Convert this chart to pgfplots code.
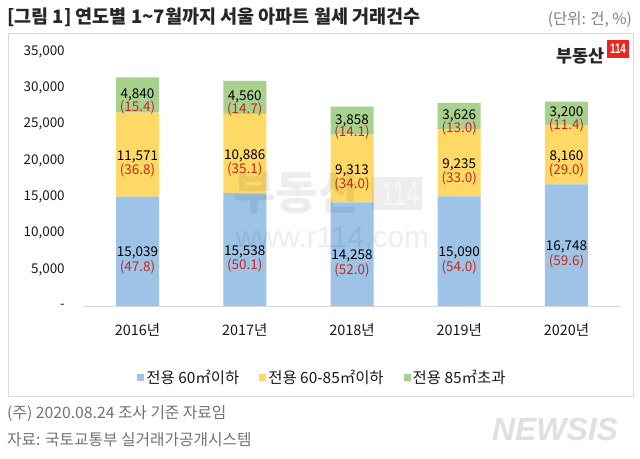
\documentclass[border=0pt]{standalone}
\usepackage{pgfplots}
\pgfplotsset{compat=1.18}
\usepackage{pgfplotstable}
\usepackage{fontspec}
\setmainfont{Noto Sans CJK KR}
\newfontfamily\latinf{Liberation Sans}
\definecolor{c1}{HTML}{9DC3E6}
\definecolor{c2}{HTML}{FFD966}
\definecolor{c3}{HTML}{A9D18E}
\definecolor{pct}{HTML}{C4281C}
\definecolor{framec}{HTML}{D9D9D9}
\definecolor{logored}{HTML}{E8281E}
\pgfplotstableread{
x a b c na nb nc pa pb pc
0 15039 11571 4840 15,039 11,571 4,840 (47.8) (36.8) (15.4)
1 15538 10886 4560 15,538 10,886 4,560 (50.1) (35.1) (14.7)
2 14258 9313 3858 14,258 9,313 3,858 (52.0) (34.0) (14.1)
3 15090 9235 3626 15,090 9,235 3,626 (54.0) (33.0) (13.0)
4 16748 8160 3200 16,748 8,160 3,200 (59.6) (29.0) (11.4)
}\datatable
\newcommand{\fs}[1]{\fontsize{#1}{#1}\selectfont}
\begin{document}
\begin{tikzpicture}
\useasboundingbox (0bp,0bp) rectangle (640bp,459bp);
\fill[white] (0bp,0bp) rectangle (640bp,459bp);
% frame
\draw[framec, line width=0.8bp] (8bp,62.3bp) rectangle (633bp,426bp);
% title
\node[anchor=west, inner sep=0pt, text=black!85] at (7bp,442bp) {\fs{18.6}\bfseries [그림 1] 연도별 1\textasciitilde 7월까지 서울 아파트 월세 거래건수};
\node[anchor=east, inner sep=0pt, text=black!50] at (632bp,439bp) {\fs{15.5}(단위: 건, \%)};
% logo
\node[anchor=east, inner sep=0pt, text=black!85] at (605bp,403bp) {\fs{17.5}\bfseries 부동산};
\fill[logored] (607bp,401bp) rectangle (629bp,419bp);
\node[inner sep=0pt, text=white, xscale=0.7, transform shape] at (618bp,410bp) {\latinf\fs{14}\bfseries 114};
% footer
\node[anchor=west, inner sep=0pt, text=black!55] at (7bp,45bp) {\fs{15.8}(주) 2020.08.24 조사 기준 자료임};
\node[anchor=west, inner sep=0pt, text=black!55] at (7bp,19bp) {\fs{15.8}자료: 국토교통부 실거래가공개시스템};
\node[inner sep=0pt, text=black!12] at (555bp,29bp) {\latinf\fs{32}\bfseries\itshape NEWSIS};
\begin{axis}[
  at={(83.9bp,153bp)}, anchor=south west,
  scale only axis, width=536.2bp, height=254.4bp,
  ybar stacked, bar width=43bp,
  xmin=-0.5, xmax=4.5, ymin=0, ymax=35000,
  scaled y ticks=false,
  xtick=data, xticklabels={2016년,2017년,2018년,2019년,2020년},
  ytick={0,5000,10000,15000,20000,25000,30000,35000},
  yticklabels={-,{5,000},{10,000},{15,000},{20,000},{25,000},{30,000},{35,000}},
  axis x line*=bottom, axis y line*=left,
  x axis line style={draw=framec, line width=0.8bp, -},
  y axis line style={draw=none, -},
  major tick length=0pt, xtick style={draw=none}, ytick style={draw=none},
  tick label style={font=\fs{13.5}, text=black!90},
  yticklabel style={inner sep=0pt, anchor=east, xshift=-19bp},
  xticklabel style={inner sep=0pt, anchor=center, yshift=-24bp, font=\fs{14.5}},
  legend style={at={(0.445,-0.283)}, anchor=center, legend columns=3, draw=none, fill=none,
    font=\fs{15.5}, text=black!90,
    /tikz/every even column/.append style={column sep=18bp}},
  legend image code/.code={\fill[#1] (0bp,-3.5bp) rectangle (7bp,3.5bp);},
  clip=false,
]
\addplot[fill=c1, draw=none] table[x=x, y=a]{\datatable};
\addplot[fill=c2, draw=none] table[x=x, y=b]{\datatable};
\addplot[fill=c3, draw=none] table[x=x, y=c]{\datatable};
\legend{전용 60㎡이하, 전용 60-85㎡이하, 전용 85㎡초과}
\end{axis}
% watermark (semi-transparent, over the bars)
\node[inner sep=0pt, text=black, opacity=0.07] at (297bp,267bp) {\fs{46}\bfseries 부동산};
\fill[black, opacity=0.07] (372bp,249bp) rectangle (422bp,282bp);
\node[inner sep=0pt, text=white, opacity=0.5, xscale=0.7, transform shape] at (397bp,265.5bp) {\latinf\fs{34} 114};
\node[inner sep=0pt, text=black, opacity=0.07] at (328bp,222bp) {\latinf\fs{30} www.r114.com};
\begin{axis}[
  at={(83.9bp,153bp)}, anchor=south west,
  scale only axis, width=536.2bp, height=254.4bp,
  xmin=-0.5, xmax=4.5, ymin=0, ymax=35000,
  hide axis, clip=false,
  point meta=explicit symbolic,
  every node near coord/.append style={anchor=center, inner sep=0pt, font=\fs{13.5}},
]
\addplot[draw=none, nodes near coords, every node near coord/.append style={yshift=-2bp, text=black}] table[x=x, y expr=\thisrow{a}/2, meta=na]{\datatable};
\addplot[draw=none, nodes near coords, every node near coord/.append style={yshift=-16bp, text=pct}] table[x=x, y expr=\thisrow{a}/2, meta=pa]{\datatable};
\addplot[draw=none, nodes near coords, every node near coord/.append style={yshift=-2bp, text=black}] table[x=x, y expr=\thisrow{a}+\thisrow{b}/2, meta=nb]{\datatable};
\addplot[draw=none, nodes near coords, every node near coord/.append style={yshift=-16bp, text=pct}] table[x=x, y expr=\thisrow{a}+\thisrow{b}/2, meta=pb]{\datatable};
\addplot[draw=none, nodes near coords, every node near coord/.append style={yshift=0bp, text=black}] table[x=x, y expr=\thisrow{a}+\thisrow{b}+\thisrow{c}/2, meta=nc]{\datatable};
\addplot[draw=none, nodes near coords, every node near coord/.append style={yshift=-12bp, text=pct}] table[x=x, y expr=\thisrow{a}+\thisrow{b}+\thisrow{c}/2, meta=pc]{\datatable};
\end{axis}
\end{tikzpicture}
\end{document}
